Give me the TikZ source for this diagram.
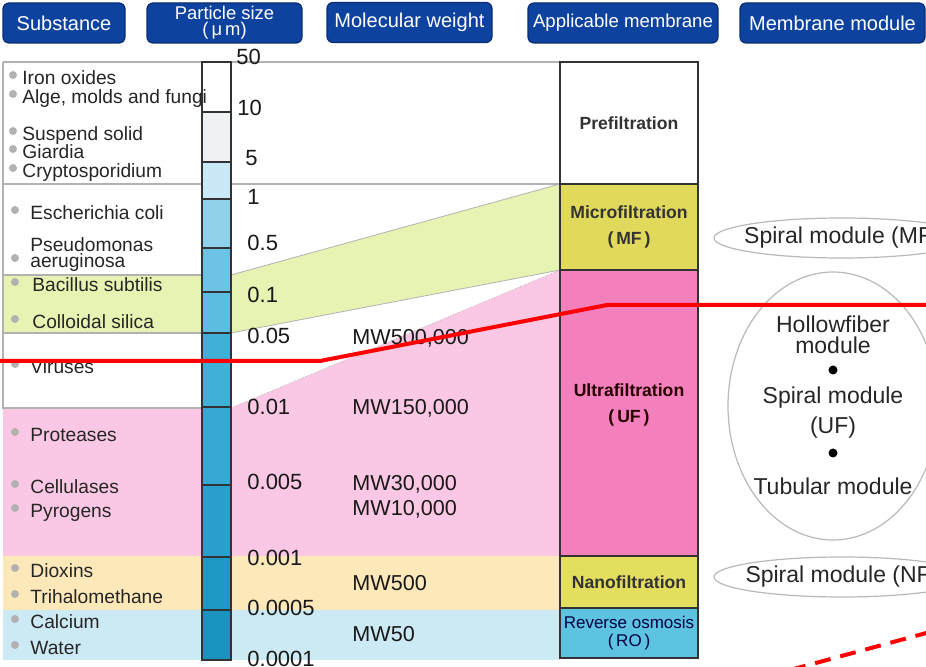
\documentclass[tikz,border=0pt]{standalone}
\usepackage{fontspec}
\setmainfont{Liberation Sans}
\usetikzlibrary{shapes,positioning}

\definecolor{hdrblue}{HTML}{0E429F}
\definecolor{hdredge}{HTML}{0A2E70}
\definecolor{greenband}{HTML}{E7F3B3}
\definecolor{pinkband}{HTML}{FAC8E4}
\definecolor{yellowband}{HTML}{FDE8BA}
\definecolor{blueband}{HTML}{CCEAF3}
\definecolor{mfyellow}{HTML}{E0D95C}
\definecolor{ufpink}{HTML}{F47FBD}
\definecolor{nfyellow}{HTML}{E4DE5F}
\definecolor{roblue}{HTML}{5EC3DF}
\definecolor{barA}{HTML}{EEF2F4}
\definecolor{barB}{HTML}{C8E9F5}
\definecolor{barC}{HTML}{8FD0EA}
\definecolor{barD}{HTML}{6CC3E3}
\definecolor{barE}{HTML}{5DBDE0}
\definecolor{barF}{HTML}{40B0D8}
\definecolor{barG}{HTML}{35A9D3}
\definecolor{barH}{HTML}{2A9FCB}
\definecolor{barI}{HTML}{1E98C4}
\definecolor{barJ}{HTML}{1B93BF}

\begin{document}
\begin{tikzpicture}[
    x=0.5pt, y=-0.5pt,
    hdr/.style={rectangle, rounded corners=3pt, draw=hdredge, line width=0.6pt, fill=hdrblue, text=white, minimum height=20pt, inner sep=0pt, align=center, font=\fontsize{10}{8}\selectfont},
    subst/.style={anchor=west, inner sep=0pt, text height=6.9pt, text depth=0pt, font=\fontsize{9.6}{8}\selectfont, text=black!85},
    bul/.style={circle, fill=gray!60, inner sep=0pt, minimum size=4pt},
    size/.style={anchor=west, inner sep=0pt, text height=7.9pt, text depth=0pt, font=\fontsize{11}{12}\selectfont, text=black!90},
    mw/.style={anchor=west, inner sep=0pt, text height=7.7pt, text depth=0pt, font=\fontsize{10.8}{12}\selectfont, text=black!90},
    memb/.style={rectangle, draw=black!80, line width=0.8pt, minimum width=69pt, inner sep=0pt, align=center, font=\bfseries\fontsize{8.8}{13}\selectfont, text=black!80},
    modring/.style={ellipse, draw=gray!55, line width=0.6pt, inner sep=0pt},
    modtxt/.style={inner sep=0pt, align=center, font=\fontsize{11.5}{10.5}\selectfont, text=black!85},
    band/.style={draw=gray!60, line width=0.6pt},
    barseg/.style={draw=black!80, line width=0.9pt},
    redline/.style={draw=red, line width=2pt}
]

\useasboundingbox (0,0) rectangle (926,667);
\clip (0,0) rectangle (926,667);
\fill[white] (0,0) rectangle (926,667);

% Column headers
\node[hdr, minimum width=61pt] (hsub) at (64,23) {Substance};
\node[hdr, minimum width=77.5pt, font=\fontsize{9.2}{8.2}\selectfont] (hsize) at (224.5,23) {Particle size\\(\,μ\,m)};
\node[hdr, minimum width=82.5pt] (hmw) at (409.5,22.5) {Molecular weight};
\node[hdr, minimum width=95pt, font=\fontsize{9.3}{8}\selectfont] (hmem) at (623,23) {Applicable membrane};
\node[hdr, minimum width=92.5pt] (hmod) at (832.5,23) {Membrane module};

% Coloured bands
\fill[greenband] (3,275) rectangle (231,333);
\fill[greenband] (231,275) -- (560,184) -- (560,270) -- (231,333) -- cycle;
\fill[pinkband] (3,408) rectangle (231,556);
\fill[pinkband] (231,408) -- (560,270) -- (560,556) -- (231,556) -- cycle;
\fill[yellowband] (3,556) rectangle (560,610);
\fill[blueband] (3,610) rectangle (560,660);

% Band borders
\draw[band] (3,62) -- (560,62);
\draw[band] (3,184) -- (560,184);
\draw[band] (3,62) -- (3,408) -- (231,408);
\draw[band] (3,275) -- (202,275);
\draw[band] (3,333) -- (202,333);
\draw[band, line width=0.4pt] (231,275) -- (560,184);
\draw[band, line width=0.4pt] (231,333) -- (560,270);
\draw[band, line width=0.4pt, densely dotted] (231,408) -- (560,270);

% Particle size bar
\foreach \ya/\yb/\col in {62/112/white, 112/162/barA, 162/199/barB, 199/248/barC, 248/292/barD, 292/333/barE, 333/407/barF, 407/485/barG, 485/557/barH, 557/610/barI, 610/660/barJ} {
    \filldraw[barseg, fill=\col] (202,\ya) rectangle (231,\yb);
}

% Substances
\foreach \y/\bx/\tx/\txt [count=\n] in {78/13/22/Iron oxides, 97/13/22/{Alge, molds and fungi}, 134/13/22/Suspend solid, 152/13/22/Giardia, 171/13/22/Cryptosporidium, 213/15/30/Escherichia coli, 285/15/32/Bacillus subtilis, 322/15/32/Colloidal silica, 367/15/30/Viruses, 435/15/30/Proteases, 487/15/30/Cellulases, 511/15/30/Pyrogens, 571/15/30/Dioxins, 597/15/30/Trihalomethane, 622/15/30/Calcium, 648/15/30/Water} {
    \node[subst] (sub\n) at (\tx,\y) {\txt};
    \node[bul] (bul\n) at (\bx,\y-3) {};
}
\node[subst, text height=, align=left] (subpa) at (30,253) {Pseudomonas\\aeruginosa};
\node[bul] (bulpa) at (15,258) {};

% Particle size values
\foreach \x/\y/\val [count=\n] in {236/57/50, 237/108/10, 245/158/5, 247/197/1, 247/243/0.5, 247/295/0.1, 247/336/0.05, 247/407/0.01, 247/482/0.005, 247/558/0.001, 247/608/0.0005, 247/659/0.0001} {
    \node[size] (ps\n) at (\x,\y) {\val};
}

% Molecular weights
\foreach \y/\val [count=\n] in {337/{MW500,000}, 407/{MW150,000}, 483/{MW30,000}, 508/{MW10,000}, 583/MW500, 634/MW50} {
    \node[mw] (mw\n) at (352,\y) {\val};
}

% Applicable membranes
\node[memb, fill=white, minimum height=61pt] (pre) at (629,123) {Prefiltration};
\node[memb, fill=mfyellow, minimum height=43pt] (mf) at (629,227) {Microfiltration\\(\,MF\,)};
\node[memb, fill=ufpink, minimum height=143pt] (uf) at (629,413) {};
\node[memb, draw=none, text=black!75!red!60!black] (uftxt) at (629,405) {Ultrafiltration\\(\,UF\,)};
\node[memb, fill=nfyellow, minimum height=26pt] (nf) at (629,582) {Nanofiltration};
\node[memb, fill=roblue, minimum height=25pt, font=\fontsize{8.5}{9}\selectfont, text=black!75!blue] (ro) at (629,633) {Reverse osmosis\\(\,RO\,)};

% Membrane modules
\node[modring, minimum width=128pt, minimum height=20pt] (mfring) at (842,238) {};
\node[modtxt] (mftxt) at (mfring) {Spiral module (MF)};
\node[modring, minimum width=105pt, minimum height=134pt] (ufring) at (833,406) {};
\node[modtxt] (uftxtA) at (833,335) {Hollowfiber\\module};
\node[circle, fill=black, inner sep=0pt, minimum size=4.5pt] (ufdotA) at (833,370) {};
\node[modtxt] (uftxtB) at (833,398) {Spiral module};
\node[modtxt] (uftxtC) at (833,428) {(UF)};
\node[circle, fill=black, inner sep=0pt, minimum size=4.5pt] (ufdotB) at (833,453) {};
\node[modtxt] (uftxtD) at (833,486) {Tubular module};
\node[modring, minimum width=128pt, minimum height=20pt] (nfring) at (842,577) {};
\node[modtxt] (nftxt) at (nfring) {Spiral module (NF)};

% Red cut-off lines
\draw[redline] (-5,361) -- (320,361) -- (607,305) -- (935,305);
\draw[redline, dash pattern=on 8pt off 5pt] (790,670) -- (930,632);

\end{tikzpicture}
\end{document}
